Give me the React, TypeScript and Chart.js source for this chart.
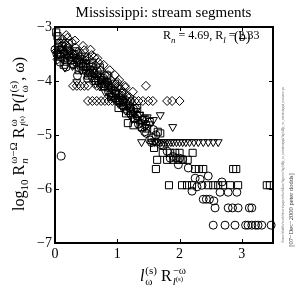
import React, { useEffect, useRef } from 'react';
import { Chart, registerables } from 'chart.js';

Chart.register(...registerables);

const FONT = "'Liberation Serif', 'Times New Roman', serif";

const xTickValues = [0, 1, 2, 3];
const yTickValues = [-7, -6, -5, -4, -3];

const circleX = [0.0, 0.03, 0.06, 0.1, 0.13, 0.16, 0.18, 0.22, 0.26, 0.3, 0.34, 0.38, 0.42, 0.46, 0.5, 0.55, 0.6, 0.65, 0.7, 0.75, 0.8, 0.86, 0.92, 0.98, 1.04, 1.1, 1.16, 1.22, 1.28, 1.34, 1.39, 1.44, 1.47, 1.52, 1.55, 1.63, 1.7, 1.74, 1.8, 1.85, 1.9, 1.95, 2.0, 2.05, 1.98, 2.14, 2.25, 2.33, 2.36, 2.46, 2.28, 2.2, 2.68, 2.65, 2.78, 2.92, 2.38, 2.43, 2.48, 2.55, 2.57, 2.78, 2.85, 2.94, 3.12, 3.16, 2.54, 2.73, 2.89, 3.06, 3.1, 3.16, 3.22, 3.26, 3.32, 3.47, 0.1,
  0.08, 0.2, 0.28, 0.36, 0.44, 0.52, 0.58, 0.68, 0.78, 0.84, 0.9, 0.96, 1.02, 1.08, 1.14, 1.2, 1.26, 1.32, 1.4, 1.46, 1.58, 1.62];
const circleY = [-3.42, -3.5, -3.38, -3.55, -3.45, -3.6, -3.74, -3.52, -3.62, -3.7, -3.58, -3.75, -3.68, -3.8, -3.74, -3.85, -3.9, -3.95, -4.0, -4.05, -4.1, -4.2, -4.28, -4.32, -4.4, -4.47, -4.55, -4.62, -4.7, -4.8, -4.87, -4.94, -4.97, -5.09, -5.14, -5.13, -5.18, -5.2, -5.3, -5.43, -5.4, -5.43, -5.43, -5.45, -5.55, -5.61, -5.8, -5.82, -5.93, -5.76, -5.96, -6.04, -5.87, -6.06, -6.06, -6.06, -6.19, -6.19, -6.19, -6.22, -6.35, -6.35, -6.35, -6.35, -6.35, -6.35, -6.67, -6.67, -6.67, -6.67, -6.67, -6.67, -6.67, -6.67, -6.67, -6.67, -5.39,
  -3.65, -3.4, -3.5, -3.9, -3.6, -3.95, -3.72, -3.82, -3.95, -4.02, -4.12, -4.18, -4.25, -4.35, -4.42, -4.5, -4.52, -4.65, -4.72, -4.8, -4.9, -5.0];

const squareX = [0.02, 0.04, 0.06, 0.09, 0.12, 0.15, 0.2, 0.25, 0.3, 0.35, 0.4, 0.45, 0.5, 0.56, 0.62, 0.68, 0.74, 0.8, 0.86, 0.92, 0.98, 1.04, 1.1, 1.17, 1.22, 1.28, 1.36, 1.44, 1.52, 1.65, 1.69, 1.59, 1.73, 1.85, 1.93, 2.0, 2.21, 1.64, 1.8, 1.9, 1.98, 2.05, 2.13, 1.62, 2.25, 2.31, 2.38, 2.86, 2.91, 1.83, 2.04, 2.12, 2.2, 2.46, 2.54, 2.62, 2.7, 2.81, 2.94, 3.4, 3.45,
  0.08, 0.14, 0.22, 0.28, 0.33, 0.38, 0.48, 0.53, 0.6, 0.65, 0.72, 0.78, 0.84, 0.9, 0.96, 1.02, 1.08, 1.14, 1.2, 1.26, 1.32, 1.4, 1.48, 1.55];
const squareY = [-3.1, -3.17, -3.3, -3.42, -3.36, -3.5, -3.45, -3.55, -3.5, -3.65, -3.6, -3.72, -3.68, -3.8, -3.85, -3.9, -3.98, -4.05, -4.12, -4.22, -4.25, -4.35, -4.45, -4.78, -4.55, -4.69, -4.65, -4.7, -4.76, -4.94, -4.97, -5.24, -5.33, -5.33, -5.33, -5.33, -5.33, -5.46, -5.46, -5.46, -5.46, -5.46, -5.46, -5.63, -5.63, -5.63, -5.63, -5.63, -5.63, -5.93, -5.93, -5.93, -5.93, -5.93, -5.93, -5.93, -5.93, -5.93, -5.93, -5.93, -5.93,
  -3.55, -3.7, -3.3, -3.68, -3.45, -3.8, -3.55, -3.9, -3.66, -4.0, -3.75, -4.1, -3.9, -4.3, -4.05, -4.5, -4.22, -4.6, -4.38, -4.82, -4.5, -4.85, -4.88, -5.05];

const diamondX = [0.02, 0.05, 0.08, 0.1, 0.12, 0.15, 0.18, 0.21, 0.24, 0.27, 0.3, 0.33, 0.36, 0.4, 0.43, 0.47, 0.5, 0.54, 0.59, 0.63, 0.66, 0.7, 0.74, 0.8, 0.85, 0.9, 0.96, 1.0, 1.05, 1.1, 1.15, 1.2, 0.29, 0.35, 0.41, 0.47, 0.53, 0.67, 0.76, 0.86, 0.95, 1.02, 1.12, 1.46, 0.53, 0.6, 0.67, 0.74, 0.8, 0.86, 0.92, 0.98, 1.04, 1.1, 1.16, 1.22, 1.28, 1.34, 1.41, 1.5, 1.57, 1.8, 1.88, 2.0,
  0.04, 0.07, 0.14, 0.2, 0.26, 0.32, 0.38, 0.45, 0.52, 0.57, 0.62, 0.68, 0.72, 0.78, 0.82, 0.88, 0.93, 0.98, 1.03, 1.08, 1.13, 1.18, 1.25, 1.3];
const diamondY = [-3.45, -3.35, -3.28, -3.42, -3.22, -3.3, -3.15, -3.36, -3.45, -3.28, -3.52, -3.38, -3.46, -3.55, -3.5, -3.43, -3.62, -3.58, -3.52, -3.56, -3.72, -3.66, -3.8, -3.89, -3.89, -3.98, -3.89, -4.02, -4.15, -4.2, -4.28, -4.3, -4.09, -4.09, -4.09, -4.09, -4.09, -4.09, -4.09, -4.09, -4.09, -4.09, -4.09, -4.09, -4.37, -4.37, -4.37, -4.37, -4.37, -4.37, -4.37, -4.37, -4.37, -4.37, -4.37, -4.37, -4.37, -4.37, -4.37, -4.37, -4.37, -4.37, -4.37, -4.37,
  -3.6, -3.5, -3.48, -3.2, -3.58, -3.25, -3.62, -3.35, -3.75, -3.42, -3.85, -3.58, -3.95, -3.7, -4.0, -3.8, -4.15, -4.2, -3.98, -4.28, -4.12, -4.45, -4.2, -4.5];

const triangleX = [0.05, 0.12, 0.2, 0.28, 0.35, 0.42, 0.5, 0.58, 0.65, 0.72, 0.8, 0.88, 0.95, 1.02, 1.08, 1.14, 1.2, 1.26, 1.32, 1.38, 1.48, 1.69, 1.89, 1.39, 1.55, 1.6, 1.65, 1.7, 1.74, 1.78, 1.82, 1.86, 1.9, 1.95, 2.0, 2.05, 2.1, 2.16, 2.23, 2.3, 2.38, 2.46, 2.54, 2.62,
  0.1, 0.16, 0.24, 0.32, 0.46, 0.55, 0.62, 0.7, 0.76, 0.84, 0.9, 0.98, 1.05, 1.12, 1.18, 1.24, 1.3, 1.36, 1.42, 1.45, 1.52, 1.58];
const triangleY = [-3.5, -3.6, -3.55, -3.72, -4.02, -3.8, -3.85, -3.95, -4.05, -4.1, -4.2, -4.28, -4.33, -4.42, -4.5, -4.55, -4.62, -4.58, -4.72, -4.78, -4.67, -4.63, -4.85, -5.13, -5.13, -5.13, -5.13, -5.13, -5.13, -5.13, -5.13, -5.13, -5.13, -5.13, -5.13, -5.13, -5.13, -5.13, -5.13, -5.13, -5.13, -5.13, -5.13, -5.13,
  -3.4, -3.75, -3.45, -3.6, -3.65, -3.72, -3.8, -3.9, -4.0, -4.05, -4.15, -4.22, -4.3, -4.38, -4.45, -4.7, -4.55, -4.62, -4.7, -4.85, -4.8, -4.72];

const toPoints = (xs: number[], ys: number[]) => xs.map((x, i) => ({ x, y: ys[i] }));
const fmt = (v: number) => (v < 0 ? '\u2212' + Math.abs(v) : String(v));

const framePlugin = {
  id: 'frame',
  afterDatasetsDraw(chart: any) {
    const { ctx, chartArea } = chart;
    const { left, right, top, bottom } = chartArea;
    const xs = chart.scales.x;
    const ys = chart.scales.y;
    ctx.save();
    ctx.strokeStyle = '#000';
    ctx.lineWidth = 1;
    ctx.beginPath();
    xTickValues.forEach((v) => {
      const px = Math.round(xs.getPixelForValue(v)) + 0.5;
      ctx.moveTo(px, bottom);
      ctx.lineTo(px, bottom - 4);
      ctx.moveTo(px, top);
      ctx.lineTo(px, top + 4);
    });
    yTickValues.forEach((v) => {
      const py = Math.round(ys.getPixelForValue(v)) + 0.5;
      ctx.moveTo(left, py);
      ctx.lineTo(left + 4, py);
      ctx.moveTo(right, py);
      ctx.lineTo(right - 4, py);
    });
    ctx.stroke();
    ctx.lineWidth = 2;
    ctx.strokeRect(left, top, right - left, bottom - top);
    ctx.restore();
  },
};

const SS = ({ sup, sub, fs }: { sup?: React.ReactNode; sub?: React.ReactNode; fs: number }) => (
  <span
    style={{
      display: 'inline-flex',
      flexDirection: 'column',
      alignItems: 'flex-start',
      fontSize: fs,
      lineHeight: `${fs}px`,
      position: 'relative',
      top: -fs * 0.62,
      marginLeft: 1,
    }}
  >
    <span>{sup ?? '\u00a0'}</span>
    <span>{sub ?? '\u00a0'}</span>
  </span>
);

export default function App() {
  const ref = useRef<HTMLCanvasElement>(null);

  useEffect(() => {
    if (!ref.current) return;
    const common = {
      pointBackgroundColor: 'rgba(0,0,0,0)',
      pointBorderColor: '#000',
      pointBorderWidth: 1,
      showLine: false,
      clip: 8,
    };
    const chart = new Chart(ref.current, {
      type: 'scatter',
      data: {
        datasets: [
          { ...common, label: 'circles', data: toPoints(circleX, circleY), pointStyle: 'circle', pointRadius: 4 },
          { ...common, label: 'squares', data: toPoints(squareX, squareY), pointStyle: 'rect', pointRadius: 5 },
          { ...common, label: 'diamonds', data: toPoints(diamondX, diamondY), pointStyle: 'rectRot', pointRadius: 4.5 },
          { ...common, label: 'triangles', data: toPoints(triangleX, triangleY), pointStyle: 'triangle', pointRotation: 180, pointRadius: 4.6 },
        ] as any,
      },
      options: {
        animation: false,
        responsive: false,
        maintainAspectRatio: false,
        layout: { padding: { top: 27, right: 24, left: 0, bottom: 0 } },
        plugins: { legend: { display: false }, tooltip: { enabled: false }, title: { display: false } },
        scales: {
          x: {
            type: 'linear',
            min: 0,
            max: 3.5,
            afterBuildTicks: (s: any) => {
              s.ticks = xTickValues.map((v) => ({ value: v }));
            },
            afterFit: (s: any) => {
              s.height = 47;
            },
            grid: { display: false, drawTicks: false },
            border: { display: false },
            ticks: {
              font: { family: FONT, size: 14 },
              color: '#000',
              padding: 3,
              maxRotation: 0,
              autoSkip: false,
              callback: (v: any) => fmt(Number(v)),
            },
          },
          y: {
            type: 'linear',
            min: -7,
            max: -3,
            afterBuildTicks: (s: any) => {
              s.ticks = yTickValues.map((v) => ({ value: v }));
            },
            afterFit: (s: any) => {
              s.width = 55;
            },
            grid: { display: false, drawTicks: false },
            border: { display: false },
            ticks: {
              font: { family: FONT, size: 14 },
              color: '#000',
              padding: 3,
              autoSkip: false,
              callback: (v: any) => fmt(Number(v)),
            },
          },
        },
      } as any,
      plugins: [framePlugin],
    });
    return () => chart.destroy();
  }, []);

  const base: React.CSSProperties = {
    position: 'absolute',
    fontFamily: FONT,
    color: '#000',
    whiteSpace: 'nowrap',
    lineHeight: 1,
  };

  return (
    <div style={{ position: 'absolute', left: 0, top: 0, width: 297, height: 290, background: '#fff', overflow: 'hidden' }}>
      <canvas ref={ref} width={297} height={290} style={{ position: 'absolute', left: 0, top: 0, width: 297, height: 290 }} />
      <div style={{ ...base, left: 163.5, top: 5, fontSize: 15, transform: 'translateX(-50%)' }}>
        Mississippi: stream segments
      </div>
      <div style={{ ...base, left: 163, top: 29, fontSize: 12 }}>
        R<span style={{ fontSize: 9, position: 'relative', top: 4, fontStyle: 'italic' }}>n</span> = 4.69, R
        <span style={{ fontSize: 9, position: 'relative', top: 4, fontStyle: 'italic' }}>l</span> = 2.33
      </div>
      <div style={{ ...base, left: 234, top: 30, fontSize: 14 }}>(b)</div>
      <div
        style={{
          ...base,
          left: 25,
          top: 134,
          fontSize: 16,
          transform: 'translate(-50%, -50%) rotate(-90deg)',
        }}
      >
        log<span style={{ fontSize: 11, position: 'relative', top: 4 }}>10</span> R
        <SS fs={11} sup={'\u03c9\u2212\u03a9'} sub={<i>n</i>} /> R
        <SS
          fs={11}
          sup={'\u03c9'}
          sub={
            <span>
              <i>l</i>
              <span style={{ fontSize: 7, position: 'relative', top: -4 }}>(s)</span>
            </span>
          }
        />{' '}
        P(<i>l</i>
        <SS fs={11} sup={'(s)'} sub={'\u03c9'} />, {'\u03c9'})
      </div>
      <div style={{ ...base, left: 163, top: 268, fontSize: 16, transform: 'translateX(-50%)' }}>
        <i>l</i>
        <SS fs={11} sup={'(s)'} sub={'\u03c9'} /> R
        <SS
          fs={11}
          sup={'\u2212\u03c9'}
          sub={
            <span>
              <i>l</i>
              <span style={{ fontSize: 7, position: 'relative', top: -4 }}>(s)</span>
            </span>
          }
        />
      </div>
      <div
        style={{
          ...base,
          left: 284,
          top: 165,
          fontSize: 3.6,
          color: '#777',
          transform: 'translate(-50%, -50%) rotate(-90deg)',
        }}
      >
        /home/dodds/work/rivers/papers/hacklaw/figures/figfullp_ss_mississippi/figfullp_ss_mississippi_noname.ps
      </div>
      <div
        style={{
          ...base,
          left: 291,
          top: 210,
          fontSize: 6.5,
          color: '#333',
          transform: 'translate(-50%, -50%) rotate(-90deg)',
        }}
      >
        [07{'\u2212'}Dec{'\u2212'}2000 peter dodds]
      </div>
    </div>
  );
}
